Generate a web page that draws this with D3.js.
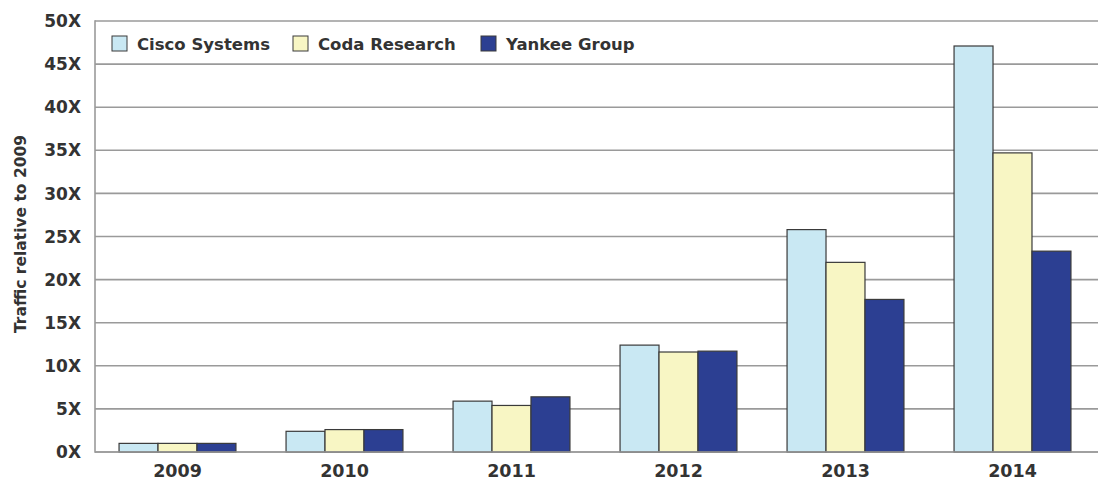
<!DOCTYPE html>
<html><head><meta charset="utf-8">
<script src="https://cdn.jsdelivr.net/npm/d3@7"></script>
<style>
body{margin:0;background:#fff;}
text{font-family:"DejaVu Sans", sans-serif;font-weight:700;fill:#333;}
</style></head>
<body>
<svg id="chart" width="1098" height="483"></svg>
<script>
const years = ["2009","2010","2011","2012","2013","2014"];
const seriesNames = ["Cisco Systems","Coda Research","Yankee Group"];
const cisco  = [1.0, 2.4, 5.9, 12.4, 25.8, 47.1];
const coda   = [1.0, 2.6, 5.4, 11.6, 22.0, 34.7];
const yankee = [1.0, 2.6, 6.4, 11.7, 17.7, 23.3];
const yTicks = [0,5,10,15,20,25,30,35,40,45,50];
const colors = ["#c9e8f3","#f8f6c4","#2c3f92"];

(function(){
const seriesValues = [cisco, coda, yankee];
const svg = d3.select("#chart");
const mLeft = 95, mRight = 1098, mTop = 21, mBottom = 452;

const x = d3.scaleBand().domain(years).range([94, 1096]).paddingInner(0.3).paddingOuter(0.15);
const xs = d3.scaleBand().domain(seriesNames).range([0, x.bandwidth()]);
const y = d3.scaleLinear().domain([0,50]).range([mBottom, mTop]);

svg.append("g").selectAll("line").data(yTicks).join("line")
  .attr("x1", mLeft).attr("x2", mRight)
  .attr("y1", d=>y(d)).attr("y2", d=>y(d))
  .attr("stroke", "#9a9a9a").attr("stroke-width", 1.6);
svg.append("line").attr("x1", mLeft).attr("x2", mLeft).attr("y1", mTop-0.8).attr("y2", mBottom+0.8)
  .attr("stroke", "#9a9a9a").attr("stroke-width", 1.6);

svg.append("g").selectAll("text").data(yTicks).join("text")
  .attr("x", 81).attr("y", d=>y(d)).attr("dy","0.36em")
  .attr("text-anchor","end").attr("font-size", 17)
  .text(d=>d+"X");

const flat = [];
years.forEach((yr,i)=>seriesNames.forEach((s,j)=>flat.push({yr, s, j, v: seriesValues[j][i]})));
svg.append("g").selectAll("rect").data(flat).join("rect")
  .attr("x", d=>x(d.yr)+xs(d.s))
  .attr("y", d=>y(d.v))
  .attr("width", xs.bandwidth())
  .attr("height", d=>y(0)-y(d.v))
  .attr("fill", d=>colors[d.j])
  .attr("stroke", "#3a3a3a").attr("stroke-width", 1.2);

svg.append("line").attr("x1", mLeft).attr("x2", mRight).attr("y1", mBottom).attr("y2", mBottom)
  .attr("stroke", "#9a9a9a").attr("stroke-width", 1.6);

svg.append("g").selectAll("text").data(years).join("text")
  .attr("x", d=>x(d)+x.bandwidth()/2).attr("y", 471).attr("dy","0.36em")
  .attr("text-anchor","middle").attr("font-size", 17.5)
  .text(d=>d);

svg.append("text").attr("transform","translate(20,234) rotate(-90)")
  .attr("text-anchor","middle").attr("dy","0.36em").attr("font-size", 15.5)
  .text("Traffic relative to 2009");

const legX = [112, 293, 481];
const lg = svg.append("g").selectAll("g").data(seriesNames).join("g")
  .attr("transform", (d,i)=>`translate(${legX[i]},36)`);
lg.append("rect").attr("width",15).attr("height",15)
  .attr("fill",(d,i)=>colors[i]).attr("stroke","#3a3a3a").attr("stroke-width",1);
lg.append("text").attr("x",25).attr("y",8).attr("dy","0.36em").attr("font-size",16.5)
  .text(d=>d);
})();
</script>
</body></html>
